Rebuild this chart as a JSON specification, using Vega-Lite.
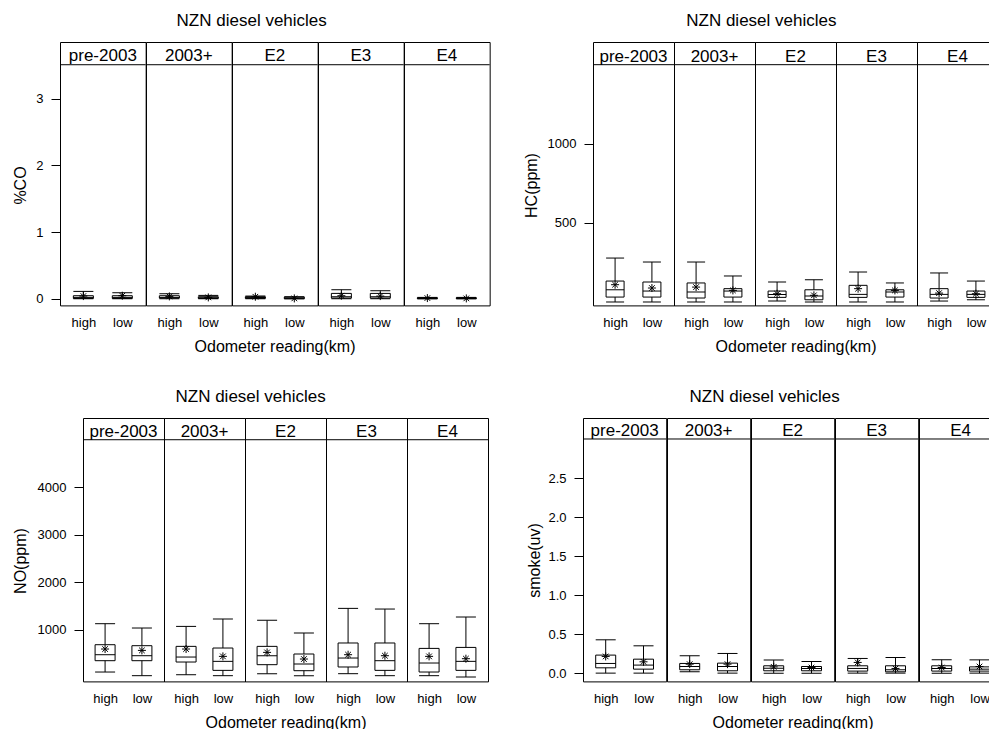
{
"$schema": "https://vega.github.io/schema/vega-lite/v6.json",
"background": "white",
"padding": {"left": 11, "top": 11, "right": 0, "bottom": 0},
"config": {
  "font": "Liberation Sans",
  "view": {"stroke": "black", "strokeWidth": 1},
  "axis": {"labelColor": "black", "titleColor": "black", "labelFontSize": 13, "titleFontSize": 16, "titleFontWeight": "normal", "grid": false, "domain": false, "tickColor": "black", "labelFont": "Liberation Sans", "titleFont": "Liberation Sans"},
  "axisX": {"ticks": false, "tickSize": 0, "labelAngle": 0, "labelPadding": 10},
  "axisY": {"ticks": true, "tickSize": 9, "labelPadding": 8, "titleBaseline": "middle", "titleAlign": "center", "titleAngle": -90},
  "title": {"fontSize": 17, "fontWeight": "normal", "color": "black", "anchor": "middle", "offset": 12, "font": "Liberation Sans"},
  "header": {"titleFontSize": 16, "titleFontWeight": "normal", "titleColor": "black", "titleFont": "Liberation Sans", "titlePadding": 0}
},
"datasets": {
  "co": [
    {"g": "pre-2003", "l": "high", "lo": 0, "q1": 0.005, "med": 0.02, "q3": 0.045, "hi": 0.11, "mean": 0.04},
    {"g": "pre-2003", "l": "low", "lo": 0, "q1": 0.005, "med": 0.02, "q3": 0.045, "hi": 0.09, "mean": 0.045},
    {"g": "2003+", "l": "high", "lo": 0, "q1": 0.01, "med": 0.02, "q3": 0.045, "hi": 0.075, "mean": 0.035},
    {"g": "2003+", "l": "low", "lo": 0, "q1": 0.005, "med": 0.015, "q3": 0.03, "hi": 0.05, "mean": 0.02},
    {"g": "E2", "l": "high", "lo": 0, "q1": 0.005, "med": 0.02, "q3": 0.03, "hi": 0.04, "mean": 0.03},
    {"g": "E2", "l": "low", "lo": 0, "q1": 0, "med": 0.01, "q3": 0.025, "hi": 0.03, "mean": 0.005},
    {"g": "E3", "l": "high", "lo": 0, "q1": 0.01, "med": 0.03, "q3": 0.08, "hi": 0.135, "mean": 0.045},
    {"g": "E3", "l": "low", "lo": 0, "q1": 0.01, "med": 0.03, "q3": 0.08, "hi": 0.12, "mean": 0.04},
    {"g": "E4", "l": "high", "lo": 0, "q1": 0, "med": 0.005, "q3": 0.015, "hi": 0.02, "mean": 0.01},
    {"g": "E4", "l": "low", "lo": 0, "q1": 0, "med": 0.005, "q3": 0.015, "hi": 0.02, "mean": 0.005}
  ],
  "hc": [
    {"g": "pre-2003", "l": "high", "lo": 2, "q1": 33, "med": 79, "q3": 134, "hi": 279, "mean": 111},
    {"g": "pre-2003", "l": "low", "lo": 2, "q1": 33, "med": 71, "q3": 128, "hi": 254, "mean": 90},
    {"g": "2003+", "l": "high", "lo": 2, "q1": 27, "med": 65, "q3": 122, "hi": 254, "mean": 96},
    {"g": "2003+", "l": "low", "lo": 2, "q1": 33, "med": 71, "q3": 86, "hi": 166, "mean": 75},
    {"g": "E2", "l": "high", "lo": 8, "q1": 31, "med": 50, "q3": 71, "hi": 128, "mean": 54},
    {"g": "E2", "l": "low", "lo": 2, "q1": 16, "med": 40, "q3": 79, "hi": 142, "mean": 44},
    {"g": "E3", "l": "high", "lo": 2, "q1": 31, "med": 50, "q3": 107, "hi": 191, "mean": 86},
    {"g": "E3", "l": "low", "lo": 2, "q1": 33, "med": 65, "q3": 79, "hi": 122, "mean": 75},
    {"g": "E4", "l": "high", "lo": 8, "q1": 27, "med": 50, "q3": 86, "hi": 185, "mean": 58},
    {"g": "E4", "l": "low", "lo": 16, "q1": 31, "med": 50, "q3": 71, "hi": 134, "mean": 54}
  ],
  "no": [
    {"g": "pre-2003", "l": "high", "lo": 107, "q1": 346, "med": 472, "q3": 683, "hi": 1126, "mean": 592},
    {"g": "pre-2003", "l": "low", "lo": 30, "q1": 346, "med": 451, "q3": 662, "hi": 1035, "mean": 563},
    {"g": "2003+", "l": "high", "lo": 50, "q1": 318, "med": 423, "q3": 648, "hi": 1069, "mean": 592},
    {"g": "2003+", "l": "low", "lo": 30, "q1": 142, "med": 332, "q3": 613, "hi": 1225, "mean": 437},
    {"g": "E2", "l": "high", "lo": 72, "q1": 262, "med": 451, "q3": 648, "hi": 1196, "mean": 521},
    {"g": "E2", "l": "low", "lo": 30, "q1": 135, "med": 276, "q3": 487, "hi": 930, "mean": 381},
    {"g": "E3", "l": "high", "lo": 72, "q1": 213, "med": 402, "q3": 719, "hi": 1449, "mean": 472},
    {"g": "E3", "l": "low", "lo": 30, "q1": 142, "med": 346, "q3": 719, "hi": 1435, "mean": 451},
    {"g": "E4", "l": "high", "lo": 30, "q1": 107, "med": 297, "q3": 605, "hi": 1126, "mean": 437},
    {"g": "E4", "l": "low", "lo": 2, "q1": 142, "med": 332, "q3": 626, "hi": 1267, "mean": 388}
  ],
  "smoke": [
    {"g": "pre-2003", "l": "high", "lo": 0, "q1": 0.068, "med": 0.124, "q3": 0.231, "hi": 0.427, "mean": 0.214},
    {"g": "pre-2003", "l": "low", "lo": 0, "q1": 0.051, "med": 0.103, "q3": 0.179, "hi": 0.35, "mean": 0.145},
    {"g": "2003+", "l": "high", "lo": 0.017, "q1": 0.043, "med": 0.085, "q3": 0.124, "hi": 0.222, "mean": 0.115},
    {"g": "2003+", "l": "low", "lo": 0, "q1": 0.03, "med": 0.085, "q3": 0.128, "hi": 0.252, "mean": 0.115},
    {"g": "E2", "l": "high", "lo": 0, "q1": 0.03, "med": 0.064, "q3": 0.094, "hi": 0.167, "mean": 0.08},
    {"g": "E2", "l": "low", "lo": 0, "q1": 0.03, "med": 0.06, "q3": 0.085, "hi": 0.15, "mean": 0.072},
    {"g": "E3", "l": "high", "lo": 0, "q1": 0.026, "med": 0.06, "q3": 0.094, "hi": 0.188, "mean": 0.137},
    {"g": "E3", "l": "low", "lo": 0, "q1": 0.017, "med": 0.043, "q3": 0.094, "hi": 0.2, "mean": 0.06},
    {"g": "E4", "l": "high", "lo": 0, "q1": 0.026, "med": 0.06, "q3": 0.094, "hi": 0.17, "mean": 0.072},
    {"g": "E4", "l": "low", "lo": 0, "q1": 0.026, "med": 0.051, "q3": 0.08, "hi": 0.17, "mean": 0.085}
  ]
},
"columns": 1,
"align": "none",
"spacing": 32,
"concat": [
 {"spacing": 0, "hconcat": [
  {"data": {"values": []}, "mark": "point", "encoding": {}, "width": 1, "height": 1, "view": {"stroke": null}},
  {"spacing": 32, "hconcat": [
  {
   "data": {"name": "co"},
   "title": {"text": "NZN diesel vehicles"},
   "facet": {"column": {"field": "g", "type": "nominal", "sort": ["pre-2003", "2003+", "E2", "E3", "E4"], "header": {"labels": false, "title": "Odometer reading(km)", "titleOrient": "bottom"}}},
   "spacing": 0,
   "bounds": "flush",
   "spec": {
    "width": 85.67, "height": 263.4,
    "layer": [
     {"mark": {"type": "rule", "color": "black"}, "encoding": {"x": {"field": "l", "type": "nominal", "sort": ["high", "low"], "scale": {"type": "point", "padding": 0.6}, "axis": {"title": null}}, "y": {"field": "lo", "type": "quantitative", "scale": {"domain": [-0.1, 3.851], "nice": false, "zero": false}, "axis": {"title": "%CO", "values": [0, 1, 2, 3], "format": "d", "titleY": 143, "titleX": -39.3}}, "y2": {"field": "hi"}}},
     {"mark": {"type": "bar", "size": 20, "fill": "white", "stroke": "black", "strokeWidth": 1}, "encoding": {"x": {"field": "l", "type": "nominal", "sort": ["high", "low"], "scale": {"type": "point", "padding": 0.6}, "axis": {"title": null}}, "y": {"field": "q1", "type": "quantitative", "scale": {"domain": [-0.1, 3.851], "nice": false, "zero": false}}, "y2": {"field": "q3"}}},
     {"mark": {"type": "tick", "size": 20, "thickness": 1, "color": "black", "opacity": 1}, "encoding": {"x": {"field": "l", "type": "nominal", "sort": ["high", "low"], "scale": {"type": "point", "padding": 0.6}, "axis": {"title": null}}, "y": {"field": "med", "type": "quantitative", "scale": {"domain": [-0.1, 3.851], "nice": false, "zero": false}}}},
     {"mark": {"type": "tick", "size": 20, "thickness": 1, "color": "black", "opacity": 1}, "encoding": {"x": {"field": "l", "type": "nominal", "sort": ["high", "low"], "scale": {"type": "point", "padding": 0.6}, "axis": {"title": null}}, "y": {"field": "lo", "type": "quantitative", "scale": {"domain": [-0.1, 3.851], "nice": false, "zero": false}}}},
     {"mark": {"type": "tick", "size": 20, "thickness": 1, "color": "black", "opacity": 1}, "encoding": {"x": {"field": "l", "type": "nominal", "sort": ["high", "low"], "scale": {"type": "point", "padding": 0.6}, "axis": {"title": null}}, "y": {"field": "hi", "type": "quantitative", "scale": {"domain": [-0.1, 3.851], "nice": false, "zero": false}}}},
     {"mark": {"type": "point", "shape": "M0,-1L0,1M-1,0L1,0M-0.7,-0.7L0.7,0.7M-0.7,0.7L0.7,-0.7", "size": 64, "filled": false, "stroke": "black", "strokeWidth": 1, "opacity": 1}, "encoding": {"x": {"field": "l", "type": "nominal", "sort": ["high", "low"], "scale": {"type": "point", "padding": 0.6}, "axis": {"title": null}}, "y": {"field": "mean", "type": "quantitative", "scale": {"domain": [-0.1, 3.851], "nice": false, "zero": false}}}},
     {"transform": [{"filter": "datum.l == 'high'"}], "mark": {"type": "rule", "color": "black"}, "encoding": {"y": {"datum": 3.51, "type": "quantitative", "scale": {"domain": [-0.1, 3.851], "nice": false, "zero": false}}}},
     {"transform": [{"filter": "datum.l == 'high'"}], "mark": {"type": "text", "fontSize": 17, "baseline": "alphabetic", "color": "black", "font": "Liberation Sans"}, "encoding": {"y": {"datum": 3.56, "type": "quantitative", "scale": {"domain": [-0.1, 3.851], "nice": false, "zero": false}}, "text": {"field": "g"}}}
    ]
   }
  },
  {
   "data": {"name": "hc"},
   "title": {"text": "NZN diesel vehicles"},
   "facet": {"column": {"field": "g", "type": "nominal", "sort": ["pre-2003", "2003+", "E2", "E3", "E4"], "header": {"labels": false, "title": "Odometer reading(km)", "titleOrient": "bottom"}}},
   "spacing": 0,
   "bounds": "flush",
   "spec": {
    "width": 81, "height": 263.4,
    "layer": [
     {"mark": {"type": "rule", "color": "black"}, "encoding": {"x": {"field": "l", "type": "nominal", "sort": ["high", "low"], "scale": {"type": "point", "padding": 0.6}, "axis": {"title": null}}, "y": {"field": "lo", "type": "quantitative", "scale": {"domain": [-19.5, 1641], "nice": false, "zero": false}, "axis": {"title": "HC(ppm)", "values": [500, 1000], "format": "d", "titleY": 143, "titleX": -61.3}}, "y2": {"field": "hi"}}},
     {"mark": {"type": "bar", "size": 18, "fill": "white", "stroke": "black", "strokeWidth": 1}, "encoding": {"x": {"field": "l", "type": "nominal", "sort": ["high", "low"], "scale": {"type": "point", "padding": 0.6}, "axis": {"title": null}}, "y": {"field": "q1", "type": "quantitative", "scale": {"domain": [-19.5, 1641], "nice": false, "zero": false}}, "y2": {"field": "q3"}}},
     {"mark": {"type": "tick", "size": 18, "thickness": 1, "color": "black", "opacity": 1}, "encoding": {"x": {"field": "l", "type": "nominal", "sort": ["high", "low"], "scale": {"type": "point", "padding": 0.6}, "axis": {"title": null}}, "y": {"field": "med", "type": "quantitative", "scale": {"domain": [-19.5, 1641], "nice": false, "zero": false}}}},
     {"mark": {"type": "tick", "size": 18, "thickness": 1, "color": "black", "opacity": 1}, "encoding": {"x": {"field": "l", "type": "nominal", "sort": ["high", "low"], "scale": {"type": "point", "padding": 0.6}, "axis": {"title": null}}, "y": {"field": "lo", "type": "quantitative", "scale": {"domain": [-19.5, 1641], "nice": false, "zero": false}}}},
     {"mark": {"type": "tick", "size": 18, "thickness": 1, "color": "black", "opacity": 1}, "encoding": {"x": {"field": "l", "type": "nominal", "sort": ["high", "low"], "scale": {"type": "point", "padding": 0.6}, "axis": {"title": null}}, "y": {"field": "hi", "type": "quantitative", "scale": {"domain": [-19.5, 1641], "nice": false, "zero": false}}}},
     {"mark": {"type": "point", "shape": "M0,-1L0,1M-1,0L1,0M-0.7,-0.7L0.7,0.7M-0.7,0.7L0.7,-0.7", "size": 64, "filled": false, "stroke": "black", "strokeWidth": 1, "opacity": 1}, "encoding": {"x": {"field": "l", "type": "nominal", "sort": ["high", "low"], "scale": {"type": "point", "padding": 0.6}, "axis": {"title": null}}, "y": {"field": "mean", "type": "quantitative", "scale": {"domain": [-19.5, 1641], "nice": false, "zero": false}}}},
     {"transform": [{"filter": "datum.l == 'high'"}], "mark": {"type": "rule", "color": "black"}, "encoding": {"y": {"datum": 1498, "type": "quantitative", "scale": {"domain": [-19.5, 1641], "nice": false, "zero": false}}}},
     {"transform": [{"filter": "datum.l == 'high'"}], "mark": {"type": "text", "fontSize": 17, "baseline": "alphabetic", "color": "black", "font": "Liberation Sans"}, "encoding": {"y": {"datum": 1515, "type": "quantitative", "scale": {"domain": [-19.5, 1641], "nice": false, "zero": false}}, "text": {"field": "g"}}}
    ]
   }
  }
  ]}
 ]},
 {"spacing": 0, "hconcat": [
  {"data": {"values": []}, "mark": "point", "encoding": {}, "width": 1, "height": 1, "view": {"stroke": null}},
  {"spacing": 37, "hconcat": [
  {
   "data": {"name": "no"},
   "title": {"text": "NZN diesel vehicles"},
   "facet": {"column": {"field": "g", "type": "nominal", "sort": ["pre-2003", "2003+", "E2", "E3", "E4"], "header": {"labels": false, "title": "Odometer reading(km)", "titleOrient": "bottom"}}},
   "spacing": 0,
   "bounds": "flush",
   "spec": {
    "width": 81, "height": 263.4,
    "layer": [
     {"mark": {"type": "rule", "color": "black"}, "encoding": {"x": {"field": "l", "type": "nominal", "sort": ["high", "low"], "scale": {"type": "point", "padding": 0.6}, "axis": {"title": null}}, "y": {"field": "lo", "type": "quantitative", "scale": {"domain": [-90.7, 5463], "nice": false, "zero": false}, "axis": {"title": "NO(ppm)", "values": [1000, 2000, 3000, 4000], "format": "d", "titleY": 142.5, "titleX": -62.8}}, "y2": {"field": "hi"}}},
     {"mark": {"type": "bar", "size": 20, "fill": "white", "stroke": "black", "strokeWidth": 1}, "encoding": {"x": {"field": "l", "type": "nominal", "sort": ["high", "low"], "scale": {"type": "point", "padding": 0.6}, "axis": {"title": null}}, "y": {"field": "q1", "type": "quantitative", "scale": {"domain": [-90.7, 5463], "nice": false, "zero": false}}, "y2": {"field": "q3"}}},
     {"mark": {"type": "tick", "size": 20, "thickness": 1, "color": "black", "opacity": 1}, "encoding": {"x": {"field": "l", "type": "nominal", "sort": ["high", "low"], "scale": {"type": "point", "padding": 0.6}, "axis": {"title": null}}, "y": {"field": "med", "type": "quantitative", "scale": {"domain": [-90.7, 5463], "nice": false, "zero": false}}}},
     {"mark": {"type": "tick", "size": 20, "thickness": 1, "color": "black", "opacity": 1}, "encoding": {"x": {"field": "l", "type": "nominal", "sort": ["high", "low"], "scale": {"type": "point", "padding": 0.6}, "axis": {"title": null}}, "y": {"field": "lo", "type": "quantitative", "scale": {"domain": [-90.7, 5463], "nice": false, "zero": false}}}},
     {"mark": {"type": "tick", "size": 20, "thickness": 1, "color": "black", "opacity": 1}, "encoding": {"x": {"field": "l", "type": "nominal", "sort": ["high", "low"], "scale": {"type": "point", "padding": 0.6}, "axis": {"title": null}}, "y": {"field": "hi", "type": "quantitative", "scale": {"domain": [-90.7, 5463], "nice": false, "zero": false}}}},
     {"mark": {"type": "point", "shape": "M0,-1L0,1M-1,0L1,0M-0.7,-0.7L0.7,0.7M-0.7,0.7L0.7,-0.7", "size": 64, "filled": false, "stroke": "black", "strokeWidth": 1, "opacity": 1}, "encoding": {"x": {"field": "l", "type": "nominal", "sort": ["high", "low"], "scale": {"type": "point", "padding": 0.6}, "axis": {"title": null}}, "y": {"field": "mean", "type": "quantitative", "scale": {"domain": [-90.7, 5463], "nice": false, "zero": false}}}},
     {"transform": [{"filter": "datum.l == 'high'"}], "mark": {"type": "rule", "color": "black"}, "encoding": {"y": {"datum": 5005, "type": "quantitative", "scale": {"domain": [-90.7, 5463], "nice": false, "zero": false}}}},
     {"transform": [{"filter": "datum.l == 'high'"}], "mark": {"type": "text", "fontSize": 17, "baseline": "alphabetic", "color": "black", "font": "Liberation Sans"}, "encoding": {"y": {"datum": 5062, "type": "quantitative", "scale": {"domain": [-90.7, 5463], "nice": false, "zero": false}}, "text": {"field": "g"}}}
    ]
   }
  },
  {
   "data": {"name": "smoke"},
   "title": {"text": "NZN diesel vehicles"},
   "facet": {"column": {"field": "g", "type": "nominal", "sort": ["pre-2003", "2003+", "E2", "E3", "E4"], "header": {"labels": false, "title": "Odometer reading(km)", "titleOrient": "bottom"}}},
   "spacing": 0,
   "bounds": "flush",
   "spec": {
    "width": 83.2, "height": 263.4,
    "layer": [
     {"mark": {"type": "rule", "color": "black"}, "encoding": {"x": {"field": "l", "type": "nominal", "sort": ["high", "low"], "scale": {"type": "point", "padding": 0.6}, "axis": {"title": null}}, "y": {"field": "lo", "type": "quantitative", "scale": {"domain": [-0.106, 3.269], "nice": false, "zero": false}, "axis": {"title": "smoke(uv)", "values": [0, 0.5, 1, 1.5, 2, 2.5], "format": ".1f", "titleY": 142, "titleX": -48.8}}, "y2": {"field": "hi"}}},
     {"mark": {"type": "bar", "size": 20, "fill": "white", "stroke": "black", "strokeWidth": 1}, "encoding": {"x": {"field": "l", "type": "nominal", "sort": ["high", "low"], "scale": {"type": "point", "padding": 0.6}, "axis": {"title": null}}, "y": {"field": "q1", "type": "quantitative", "scale": {"domain": [-0.106, 3.269], "nice": false, "zero": false}}, "y2": {"field": "q3"}}},
     {"mark": {"type": "tick", "size": 20, "thickness": 1, "color": "black", "opacity": 1}, "encoding": {"x": {"field": "l", "type": "nominal", "sort": ["high", "low"], "scale": {"type": "point", "padding": 0.6}, "axis": {"title": null}}, "y": {"field": "med", "type": "quantitative", "scale": {"domain": [-0.106, 3.269], "nice": false, "zero": false}}}},
     {"mark": {"type": "tick", "size": 20, "thickness": 1, "color": "black", "opacity": 1}, "encoding": {"x": {"field": "l", "type": "nominal", "sort": ["high", "low"], "scale": {"type": "point", "padding": 0.6}, "axis": {"title": null}}, "y": {"field": "lo", "type": "quantitative", "scale": {"domain": [-0.106, 3.269], "nice": false, "zero": false}}}},
     {"mark": {"type": "tick", "size": 20, "thickness": 1, "color": "black", "opacity": 1}, "encoding": {"x": {"field": "l", "type": "nominal", "sort": ["high", "low"], "scale": {"type": "point", "padding": 0.6}, "axis": {"title": null}}, "y": {"field": "hi", "type": "quantitative", "scale": {"domain": [-0.106, 3.269], "nice": false, "zero": false}}}},
     {"mark": {"type": "point", "shape": "M0,-1L0,1M-1,0L1,0M-0.7,-0.7L0.7,0.7M-0.7,0.7L0.7,-0.7", "size": 64, "filled": false, "stroke": "black", "strokeWidth": 1, "opacity": 1}, "encoding": {"x": {"field": "l", "type": "nominal", "sort": ["high", "low"], "scale": {"type": "point", "padding": 0.6}, "axis": {"title": null}}, "y": {"field": "mean", "type": "quantitative", "scale": {"domain": [-0.106, 3.269], "nice": false, "zero": false}}}},
     {"transform": [{"filter": "datum.l == 'high'"}], "mark": {"type": "rule", "color": "black"}, "encoding": {"y": {"datum": 3.0, "type": "quantitative", "scale": {"domain": [-0.106, 3.269], "nice": false, "zero": false}}}},
     {"transform": [{"filter": "datum.l == 'high'"}], "mark": {"type": "text", "fontSize": 17, "baseline": "alphabetic", "color": "black", "font": "Liberation Sans"}, "encoding": {"y": {"datum": 3.035, "type": "quantitative", "scale": {"domain": [-0.106, 3.269], "nice": false, "zero": false}}, "text": {"field": "g"}}}
    ]
   }
  }
  ]}
 ]}
]
}
